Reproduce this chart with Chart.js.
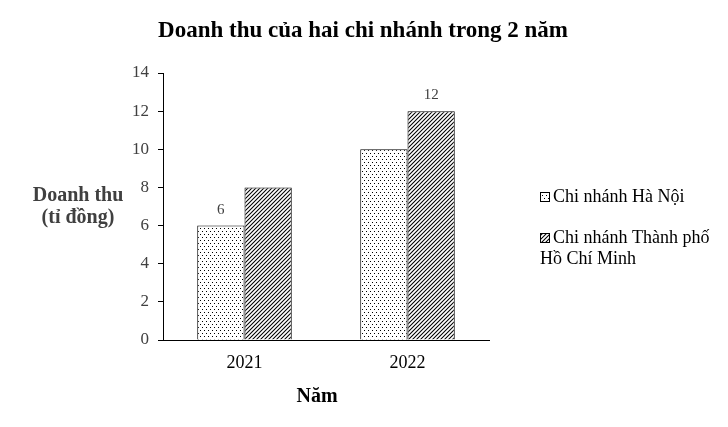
<!DOCTYPE html>
<html>
<head>
<meta charset="utf-8">
<script src="https://cdn.jsdelivr.net/npm/chart.js@4.4.1/dist/chart.umd.min.js"></script>
<style>
    html, body { margin: 0; padding: 0; background: #fff; }
    #wrap { width: 728px; height: 427px; }
</style>
</head>
<body>
<div id="wrap"><canvas id="revenueChart" width="728" height="427"></canvas></div>
<script>
// Data
const years = ['2021', '2022'];
const haNoi = [6, 10];
const hoChiMinh = [8, 12];
const haNoiLabels = ['6', null];
const hoChiMinhLabels = [null, '12'];
const yTicks = [0, 2, 4, 6, 8, 10, 12, 14];

const seriesNames = ['Chi nhánh Hà Nội', ['Chi nhánh Thành phố', 'Hồ Chí Minh']];
const chartTitle = 'Doanh thu của hai chi nhánh trong 2 năm';
const yTitle = ['Doanh thu', '(tỉ đồng)'];
const xTitle = 'Năm';

const SERIF = '"Liberation Serif", "Times New Roman", serif';

// Fill patterns
function dotPattern() {
    const c = document.createElement('canvas');
    c.width = 4; c.height = 6;
    const g = c.getContext('2d');
    g.fillStyle = '#fff';
    g.fillRect(0, 0, 4, 6);
    g.fillStyle = '#000';
    g.fillRect(0, 0, 1, 1);
    g.fillRect(2, 3, 1, 1);
    return g.createPattern(c, 'repeat');
}

function hatchPattern() {
    const c = document.createElement('canvas');
    c.width = 4; c.height = 4;
    const g = c.getContext('2d');
    g.fillStyle = '#fff';
    g.fillRect(0, 0, 4, 4);
    g.strokeStyle = '#000';
    g.lineWidth = 1.05;
    g.beginPath();
    g.moveTo(-1, 5); g.lineTo(5, -1);
    g.moveTo(-1, 1); g.lineTo(1, -1);
    g.moveTo(3, 5); g.lineTo(5, 3);
    g.stroke();
    return g.createPattern(c, 'repeat');
}

const fills = [dotPattern(), hatchPattern()];

// Title, axis titles, value labels and legend
const decorations = {
    id: 'decorations',
    afterDraw(chart) {
        const ctx = chart.ctx;
        ctx.save();

        ctx.fillStyle = '#000';
        ctx.textAlign = 'center';
        ctx.textBaseline = 'middle';
        ctx.font = 'bold 23px ' + SERIF;
        ctx.fillText(chartTitle, 363, 31);

        ctx.font = 'bold 20px ' + SERIF;
        ctx.fillStyle = '#404040';
        ctx.fillText(yTitle[0], 78, 196);
        ctx.fillText(yTitle[1], 78, 218);

        ctx.fillStyle = '#000';
        ctx.fillText(xTitle, 317, 397);

        // value labels above bars
        ctx.font = '15px ' + SERIF;
        ctx.fillStyle = '#404040';
        [haNoiLabels, hoChiMinhLabels].forEach((labels, di) => {
            const meta = chart.getDatasetMeta(di);
            labels.forEach((txt, i) => {
                if (txt === null) return;
                const bar = meta.data[i];
                ctx.fillText(txt, bar.x, bar.y - 16);
            });
        });

        // legend
        ctx.textAlign = 'left';
        ctx.font = '18px ' + SERIF;
        const rows = [197, 238];
        seriesNames.forEach((name, i) => {
            const y = rows[i];
            ctx.fillStyle = fills[i];
            ctx.fillRect(541, y - 4, 8, 8);
            ctx.strokeStyle = '#000';
            ctx.lineWidth = 1;
            ctx.strokeRect(540.5, y - 4.5, 9, 9);
            ctx.fillStyle = '#000';
            const lines = Array.isArray(name) ? name : [name];
            lines.forEach((line, k) => {
                ctx.fillText(line, k === 0 ? 553 : 540, y + k * 21);
            });
        });

        ctx.restore();
    }
};

new Chart(document.getElementById('revenueChart'), {
    type: 'bar',
    data: {
        labels: years,
        datasets: [{
            label: 'Chi nhánh Hà Nội',
            data: haNoi,
            backgroundColor: fills[0],
            borderColor: '#000',
            borderWidth: 1
        }, {
            label: 'Chi nhánh Thành phố Hồ Chí Minh',
            data: hoChiMinh,
            backgroundColor: fills[1],
            borderColor: '#000',
            borderWidth: 1
        }]
    },
    options: {
        responsive: false,
        animation: false,
        devicePixelRatio: 1,
        layout: {
            padding: { left: 110, right: 239, top: 73, bottom: 0 }
        },
        datasets: {
            bar: { categoryPercentage: 0.58, barPercentage: 1 }
        },
        plugins: {
            legend: { display: false },
            title: { display: false },
            tooltip: { enabled: false }
        },
        scales: {
            x: {
                grid: { display: false, drawTicks: false },
                border: { color: '#000', width: 1 },
                ticks: {
                    padding: 12,
                    color: '#000',
                    font: { family: SERIF, size: 18 }
                },
                afterFit(scale) { scale.height = 87; }
            },
            y: {
                min: 0,
                max: 14,
                afterBuildTicks(scale) {
                    scale.ticks = yTicks.map(v => ({ value: v }));
                },
                grid: {
                    drawOnChartArea: false,
                    drawTicks: true,
                    tickLength: 5,
                    color: '#000'
                },
                border: { color: '#000', width: 1 },
                ticks: {
                    padding: 9,
                    color: '#404040',
                    font: { family: SERIF, size: 17 }
                },
                afterFit(scale) { scale.width = 53; }
            }
        }
    },
    plugins: [decorations]
});
</script>
</body>
</html>
